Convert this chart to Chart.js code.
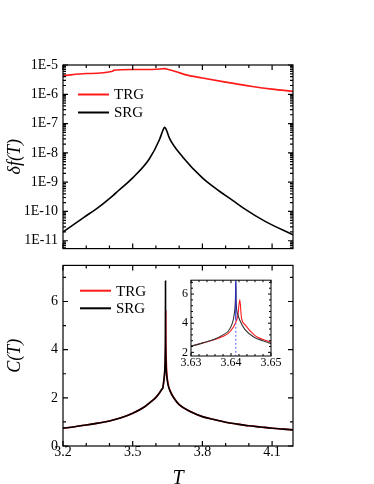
<!DOCTYPE html>
<html>
<head>
<meta charset="utf-8">
<script src="https://cdn.jsdelivr.net/npm/chart.js@4.4.0/dist/chart.umd.min.js"></script>
<style>
  body { margin: 0; background: #fff; }
  #wrap { position: relative; width: 374px; height: 484px; }
  canvas { position: absolute; }
</style>
</head>
<body>
<div id="wrap">
  <canvas id="topChart" width="374" height="262" style="left:0;top:0"></canvas>
  <canvas id="bottomChart" width="374" height="232" style="left:0;top:252px"></canvas>
  <canvas id="insetChart" width="118" height="106" style="left:170px;top:270px"></canvas>
</div>
<script>
// ---- données ----
// panneau du haut : erreur sur l'énergie libre
const tDfTRG = [3.2, 3.3, 3.414, 3.417, 3.5, 3.6, 3.637, 3.645, 3.67, 3.725, 3.8, 3.9, 4.015, 4.1, 4.19];
const dfTRG = [4.3e-6, 5.1e-6, 6.1e-6, 6.6e-6, 7.0e-6, 7.2e-6, 7.5e-6, 7.3e-6, 6.5e-6, 4.7e-6, 3.6e-6, 2.6e-6, 1.85e-6, 1.5e-6, 1.26e-6];
const tDfSRG = [3.2, 3.29, 3.358, 3.415, 3.437, 3.5, 3.572, 3.615, 3.629, 3.637, 3.644, 3.658, 3.716, 3.8, 3.872, 3.93, 3.98, 4.072, 4.19];
const dfSRG = [2.0e-11, 6.3e-11, 1.5e-10, 3.5e-10, 5.0e-10, 1.4e-9, 6.3e-9, 2.8e-8, 5.6e-8, 7.4e-8, 6.3e-8, 3.2e-8, 7.1e-9, 1.4e-9, 5.0e-10, 2.4e-10, 1.25e-10, 4.5e-11, 1.6e-11];

// panneau du bas : chaleur spécifique
const tC = [3.2, 3.25, 3.3, 3.35, 3.4, 3.45, 3.5, 3.55, 3.58, 3.6, 3.615, 3.625, 3.63, 3.634, 3.637, 3.639, 3.6403, 3.6409, 3.6412, 3.6415, 3.642, 3.643, 3.645, 3.648, 3.652, 3.66, 3.68, 3.7, 3.75, 3.8, 3.85, 3.9, 3.95, 4.0, 4.05, 4.1, 4.15, 4.19];
const cSRG = [0.74, 0.8, 0.87, 0.95, 1.04, 1.17, 1.36, 1.62, 1.85, 2.02, 2.2, 2.35, 2.43, 2.72, 3.0, 3.35, 3.9, 4.6, 6.85, 5.0, 4.2, 3.6, 3.1, 2.8, 2.55, 2.3, 1.95, 1.72, 1.42, 1.22, 1.1, 0.99, 0.91, 0.84, 0.79, 0.74, 0.7, 0.67];
const tCTRG = [3.2, 3.25, 3.3, 3.35, 3.4, 3.45, 3.5, 3.55, 3.58, 3.6, 3.615, 3.625, 3.63, 3.634, 3.637, 3.639, 3.6403, 3.641, 3.6417, 3.6422, 3.6426, 3.6435, 3.646, 3.648, 3.652, 3.66, 3.68, 3.7, 3.75, 3.8, 3.85, 3.9, 3.95, 4.0, 4.05, 4.1, 4.15, 4.19];
const cTRG = [0.74, 0.8, 0.87, 0.95, 1.04, 1.17, 1.36, 1.62, 1.85, 2.02, 2.2, 2.35, 2.43, 2.7, 2.95, 3.3, 3.55, 3.95, 4.5, 5.6, 4.4, 3.9, 3.15, 2.88, 2.6, 2.32, 1.96, 1.72, 1.42, 1.22, 1.1, 0.99, 0.91, 0.84, 0.79, 0.74, 0.7, 0.67];

// encart (zoom autour de Tc)
const tInSRG = [3.628, 3.63, 3.633, 3.636, 3.638, 3.6393, 3.6402, 3.6408, 3.6411, 3.6412, 3.6413, 3.6417, 3.6422, 3.6435, 3.646, 3.648, 3.65];
const cInSRG = [2.4, 2.43, 2.65, 2.92, 3.2, 3.45, 3.9, 4.6, 5.6, 6.85, 5.4, 4.6, 4.2, 3.56, 3.0, 2.8, 2.6];
const tInTRG = [3.628, 3.63, 3.633, 3.636, 3.638, 3.6393, 3.64, 3.641, 3.6417, 3.6422, 3.6426, 3.6435, 3.646, 3.648, 3.65];
const cInTRG = [2.4, 2.43, 2.65, 2.88, 3.1, 3.3, 3.5, 3.95, 4.5, 5.6, 4.4, 3.9, 3.15, 2.88, 2.7];
const tcMark = 3.6412;

// graduations
const xMajor = [3.2, 3.5, 3.8, 4.1];
const xMinor = [3.3, 3.4, 3.6, 3.7, 3.9, 4.0];
const dfDecades = [1e-11, 1e-10, 1e-9, 1e-8, 1e-7, 1e-6, 1e-5];
const cMajor = [0, 2, 4, 6];
const cMinor = [1, 3, 5, 7];
const inXMajor = [3.63, 3.64, 3.65];
const inXMinor = [3.632, 3.634, 3.636, 3.638, 3.642, 3.644, 3.646, 3.648];
const inYMajor = [2, 4, 6];
const inYMinor = [2.4, 2.8, 3.2, 3.6, 4.4, 4.8, 5.2, 5.6, 6.4, 6.8];

const RED = "#ff1a1a";
const SERIF = "'Liberation Serif', 'Times New Roman', serif";

function pts(xs, ys) {
  return xs.map((x, i) => ({ x: x, y: ys[i] }));
}

// mineures log : 2..9 dans chaque décade
const dfMinor = [];
dfDecades.concat([1e-12]).forEach((d) => {
  for (let k = 2; k <= 9; k++) dfMinor.push(d * k);
});

// cadre fermé + graduations vers l'intérieur sur les quatre côtés, légende
const frameTicks = {
  id: "frameTicks",
  beforeDatasetsDraw(chart, args, o) {
    if (!o.fill) return;
    const a = chart.chartArea;
    chart.ctx.save();
    chart.ctx.fillStyle = "#fff";
    chart.ctx.fillRect(a.left, a.top, a.right - a.left, a.bottom - a.top);
    chart.ctx.restore();
  },
  afterDatasetsDraw(chart, args, o) {
    const ctx = chart.ctx;
    const a = chart.chartArea;
    const sx = chart.scales.x, sy = chart.scales.y;
    ctx.save();
    ctx.strokeStyle = "#000";
    ctx.lineWidth = o.lw || 1.2;
    ctx.beginPath();
    const xt = (list, len) => list.forEach((v) => {
      if (v < sx.min || v > sx.max) return;
      const p = sx.getPixelForValue(v);
      ctx.moveTo(p, a.bottom); ctx.lineTo(p, a.bottom - len);
      ctx.moveTo(p, a.top); ctx.lineTo(p, a.top + len);
    });
    const yt = (list, len) => list.forEach((v) => {
      if (v < sy.min || v > sy.max) return;
      const p = sy.getPixelForValue(v);
      ctx.moveTo(a.left, p); ctx.lineTo(a.left + len, p);
      ctx.moveTo(a.right, p); ctx.lineTo(a.right - len, p);
    });
    xt(o.xMajor, o.major); xt(o.xMinor, o.minor);
    yt(o.yMajor, o.major); yt(o.yMinor, o.minor);
    ctx.stroke();
    ctx.strokeRect(a.left, a.top, a.right - a.left, a.bottom - a.top);
    if (o.legend) {
      ctx.font = "15px " + SERIF;
      ctx.textBaseline = "middle";
      o.legend.forEach((it) => {
        ctx.strokeStyle = it.color;
        ctx.lineWidth = 2;
        ctx.beginPath();
        ctx.moveTo(it.x, it.y); ctx.lineTo(it.x + 31, it.y);
        ctx.stroke();
        ctx.fillStyle = "#000";
        ctx.fillText(it.text, it.x + 36, it.y + 1);
      });
    }
    ctx.restore();
  },
};

Chart.register(frameTicks);

const commonLine = { pointRadius: 0, borderWidth: 1.6, cubicInterpolationMode: "monotone", fill: false };
const noGrid = { display: false, drawTicks: false };

// ---- panneau du haut ----
new Chart(document.getElementById("topChart"), {
  type: "line",
  data: {
    datasets: [
      Object.assign({ label: "SRG", data: pts(tDfSRG, dfSRG), borderColor: "#000" }, commonLine),
      Object.assign({ label: "TRG", data: pts(tDfTRG, dfTRG), borderColor: RED }, commonLine),
    ],
  },
  options: {
    responsive: false,
    animation: false,
    devicePixelRatio: 1,
    events: [],
    layout: { padding: { left: 0, right: 81, top: 65, bottom: 9 } },
    scales: {
      x: {
        type: "linear", min: 3.2, max: 4.19,
        grid: noGrid, border: { display: false },
        ticks: { display: false },
        afterFit: (s) => { s.height = 0; },
      },
      y: {
        type: "logarithmic", min: 5.4e-12, max: 1e-5,
        grid: noGrid, border: { display: false },
        afterBuildTicks: (s) => { s.ticks = dfDecades.map((v) => ({ value: v })); },
        ticks: {
          color: "#000", padding: 5,
          font: { family: SERIF, size: 14 },
          callback: (v) => "1E" + Math.round(Math.log10(v)),
        },
        title: {
          display: true, text: "δf(T)", color: "#000",
          font: { family: SERIF, size: 18, style: "italic" },
          padding: { top: 4, bottom: 0 },
        },
        afterFit: (s) => { s.width = 63; },
      },
    },
    plugins: {
      legend: { display: false },
      tooltip: { enabled: false },
      frameTicks: {
        xMajor: xMajor, xMinor: xMinor, yMajor: dfDecades, yMinor: dfMinor,
        major: 5, minor: 3,
        legend: [
          { text: "TRG", color: RED, x: 78, y: 94.5 },
          { text: "SRG", color: "#000", x: 78, y: 112.5 },
        ],
      },
    },
  },
});

// ---- panneau du bas ----
new Chart(document.getElementById("bottomChart"), {
  type: "line",
  data: {
    datasets: [
      Object.assign({ label: "SRG", data: pts(tC, cSRG), borderColor: "#000" }, commonLine),
      Object.assign({ label: "TRG", data: pts(tCTRG, cTRG), borderColor: RED }, commonLine),
    ],
  },
  options: {
    responsive: false,
    animation: false,
    devicePixelRatio: 1,
    events: [],
    layout: { padding: { left: 0, right: 81, top: 9, bottom: 0 } },
    scales: {
      x: {
        type: "linear", min: 3.2, max: 4.19,
        grid: noGrid, border: { display: false },
        afterBuildTicks: (s) => { s.ticks = xMajor.map((v) => ({ value: v })); },
        ticks: {
          color: "#000", padding: -2, maxRotation: 0,
          font: { family: SERIF, size: 14 },
          callback: (v) => v.toFixed(1),
        },
        title: {
          display: true, text: "T", color: "#000",
          font: { family: SERIF, size: 20, style: "italic", lineHeight: 1 },
          padding: { top: 0, bottom: -5 },
        },
        afterFit: (s) => { s.height = 38; },
      },
      y: {
        type: "linear", min: 0, max: 7.5,
        grid: noGrid, border: { display: false },
        afterBuildTicks: (s) => { s.ticks = cMajor.map((v) => ({ value: v })); },
        ticks: {
          color: "#000", padding: 5,
          font: { family: SERIF, size: 14 },
        },
        title: {
          display: true, text: "C(T)", color: "#000",
          font: { family: SERIF, size: 18, style: "italic" },
          padding: { top: 4, bottom: 0 },
        },
        afterFit: (s) => { s.width = 63; },
      },
    },
    plugins: {
      legend: { display: false },
      tooltip: { enabled: false },
      frameTicks: {
        xMajor: xMajor, xMinor: xMinor, yMajor: cMajor, yMinor: cMinor,
        major: 5, minor: 3,
        legend: [
          { text: "TRG", color: RED, x: 80, y: 38.7 },
          { text: "SRG", color: "#000", x: 80, y: 56.3 },
        ],
      },
    },
  },
});

// ---- encart ----
new Chart(document.getElementById("insetChart"), {
  type: "line",
  data: {
    datasets: [
      { label: "Tc", data: [{ x: tcMark, y: 4.24 }, { x: tcMark, y: 7 }], borderColor: "#2a2ad8", borderWidth: 1.2, pointRadius: 0 },
      { label: "Tc2", data: [{ x: tcMark, y: 1.7 }, { x: tcMark, y: 4.24 }], borderColor: "#5a5aff", borderWidth: 1, borderDash: [2, 2], pointRadius: 0 },
      Object.assign({ label: "SRG", data: pts(tInSRG, cInSRG), borderColor: "#333" }, commonLine, { borderWidth: 1.1 }),
      Object.assign({ label: "TRG", data: pts(tInTRG, cInTRG), borderColor: RED }, commonLine, { borderWidth: 1.1 }),
    ],
  },
  options: {
    responsive: false,
    animation: false,
    devicePixelRatio: 1,
    events: [],
    layout: { padding: { left: 0, right: 17, top: 9, bottom: 0 } },
    scales: {
      x: {
        type: "linear", min: 3.63, max: 3.65,
        grid: noGrid, border: { display: false },
        afterBuildTicks: (s) => { s.ticks = inXMajor.map((v) => ({ value: v })); },
        ticks: {
          color: "#000", padding: 0, maxRotation: 0,
          font: { family: SERIF, size: 12 },
          callback: (v) => v.toFixed(2),
        },
        afterFit: (s) => { s.height = 20; },
      },
      y: {
        type: "linear", min: 1.75, max: 6.95,
        grid: noGrid, border: { display: false },
        afterBuildTicks: (s) => { s.ticks = inYMajor.map((v) => ({ value: v })); },
        ticks: {
          color: "#000", padding: 3,
          font: { family: SERIF, size: 12 },
        },
        afterFit: (s) => { s.width = 21; },
      },
    },
    plugins: {
      legend: { display: false },
      tooltip: { enabled: false },
      frameTicks: {
        xMajor: inXMajor, xMinor: inXMinor, yMajor: inYMajor, yMinor: inYMinor,
        major: 3, minor: 2, lw: 1, fill: true,
      },
    },
  },
});
</script>
</body>
</html>
